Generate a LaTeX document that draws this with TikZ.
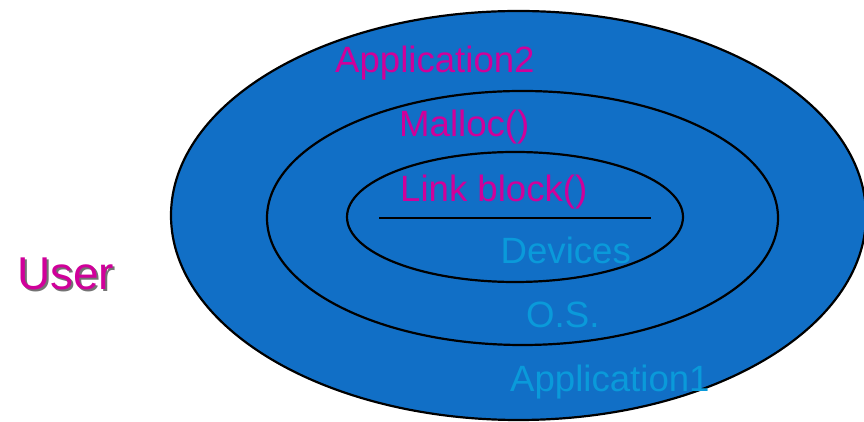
\documentclass[tikz,border=0pt]{standalone}
\usepackage{fontspec}
\setmainfont{Liberation Sans}
\usepackage{xcolor}
\usetikzlibrary{shapes.geometric}
\definecolor{layer}{HTML}{116FC6}
\definecolor{appl}{HTML}{D0009A}
\definecolor{sys}{HTML}{0A9ADA}

\begin{document}
\begin{tikzpicture}[
  x=1pt, y=1pt,
  ring/.style ={ellipse, draw=black, line width=2.2pt, fill=layer, inner sep=0pt, outer sep=0pt},
  upper/.style={anchor=base west, inner sep=0pt, text=appl, font=\fontsize{36.6}{36}\selectfont},
  lower/.style={anchor=base west, inner sep=0pt, text=sys, font=\fontsize{36.6}{36}\selectfont},
  who/.style  ={anchor=base west, inner sep=0pt, font=\fontsize{46}{46}\selectfont}
]
\useasboundingbox (0,0) rectangle (864,422);
% ---------- rings ----------
\node[ring, minimum width=695pt, minimum height=409pt] (outer)  at (518.5,206.5) {};
\node[ring, minimum width=511pt, minimum height=254pt] (middle) at (522.5,204) {};
\node[ring, minimum width=336pt, minimum height=130pt] (inner)  at (515,205) {};
\coordinate (sepL) at (379,204);
\coordinate (sepR) at (651,204);
\draw[line width=2.2pt] (sepL) -- (sepR);

% ---------- labels ----------
\node[upper] (app2)   at (335,349) {Application2};
\node[upper] (malloc) at (399,285) {Malloc()};
\node[upper] (link)   at (400,220.5) {Link block()};
\node[lower] (dev)    at (500.5,158) {Devices};
\node[lower] (os)     at (526,94) {O.S.};
\node[lower] (app1)   at (510,30.5) {Application1};

% ---------- user ----------
\node[who, text=black!55] (usershd) at (19,130) {User};
\node[who, text=appl]     (user)    at (17,132) {User};
\end{tikzpicture}
\end{document}
